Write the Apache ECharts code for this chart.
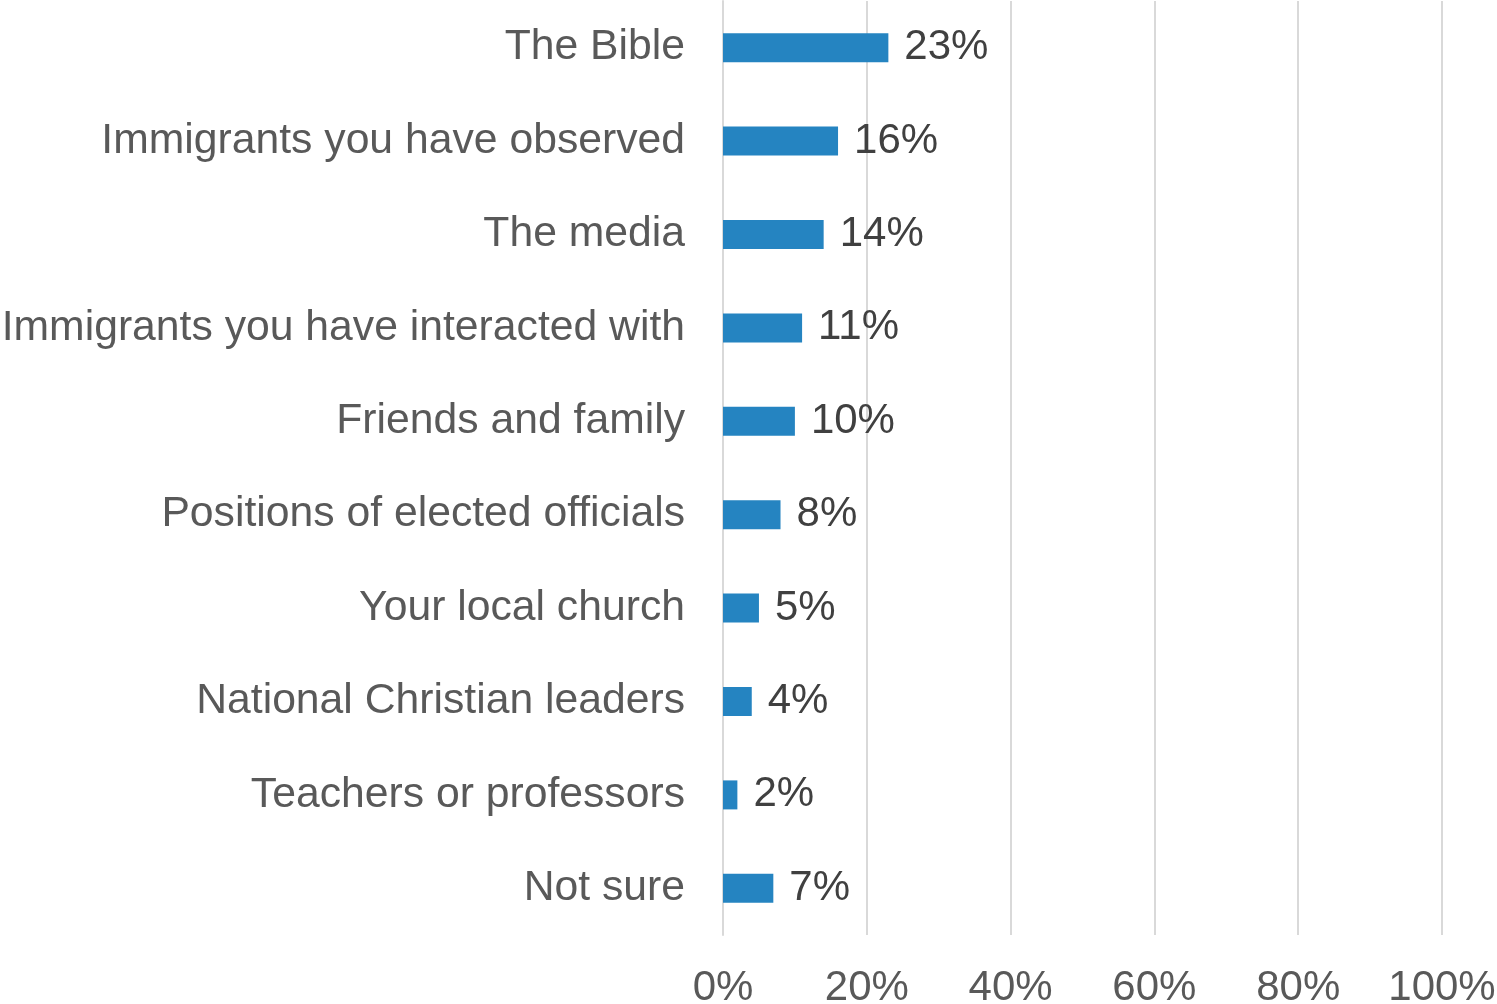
<!DOCTYPE html>
<html>
<head>
<meta charset="utf-8">
<script src="https://cdn.jsdelivr.net/npm/echarts@6/dist/echarts.min.js"></script>
<style>
html,body{margin:0;padding:0;background:#fff;}
#chart{width:1497px;height:1004px;}
</style>
</head>
<body>
<div id="chart"></div>
<script>
const categories = [
  "The Bible",
  "Immigrants you have observed",
  "The media",
  "Immigrants you have interacted with",
  "Friends and family",
  "Positions of elected officials",
  "Your local church",
  "National Christian leaders",
  "Teachers or professors",
  "Not sure"
];
const values = [23, 16, 14, 11, 10, 8, 5, 4, 2, 7];
const xTicks = [0, 20, 40, 60, 80, 100];

const chart = echarts.init(document.getElementById('chart'), null, {renderer: 'canvas'});
const font = '"Liberation Sans", Arial, sans-serif';
chart.setOption({
  animation: false,
  backgroundColor: '#ffffff',
  grid: {left: 723, right: 55, top: 1, bottom: 69, containLabel: false, outerBoundsMode: 'none'},
  xAxis: {
    type: 'value',
    min: xTicks[0],
    max: xTicks[xTicks.length - 1],
    interval: 20,
    axisLine: {show: false},
    axisTick: {show: false},
    splitLine: {show: true, lineStyle: {color: '#d9d9d9', width: 2}},
    axisLabel: {
      formatter: v => v + '%',
      fontFamily: font,
      fontSize: 42,
      color: '#595959',
      margin: 32
    }
  },
  yAxis: {
    type: 'category',
    inverse: true,
    data: categories,
    axisLine: {show: true, lineStyle: {color: '#d9d9d9', width: 2}},
    axisTick: {show: false},
    axisLabel: {
      fontFamily: font,
      fontSize: 42.7,
      color: '#595959',
      margin: 38
    }
  },
  series: [{
    type: 'bar',
    data: values,
    barWidth: 29,
    itemStyle: {color: '#2584c1'},
    label: {
      show: true,
      position: 'right',
      distance: 16,
      formatter: p => p.value + '%',
      fontFamily: font,
      fontSize: 42,
      color: '#404040'
    }
  }]
});
</script>
</body>
</html>
